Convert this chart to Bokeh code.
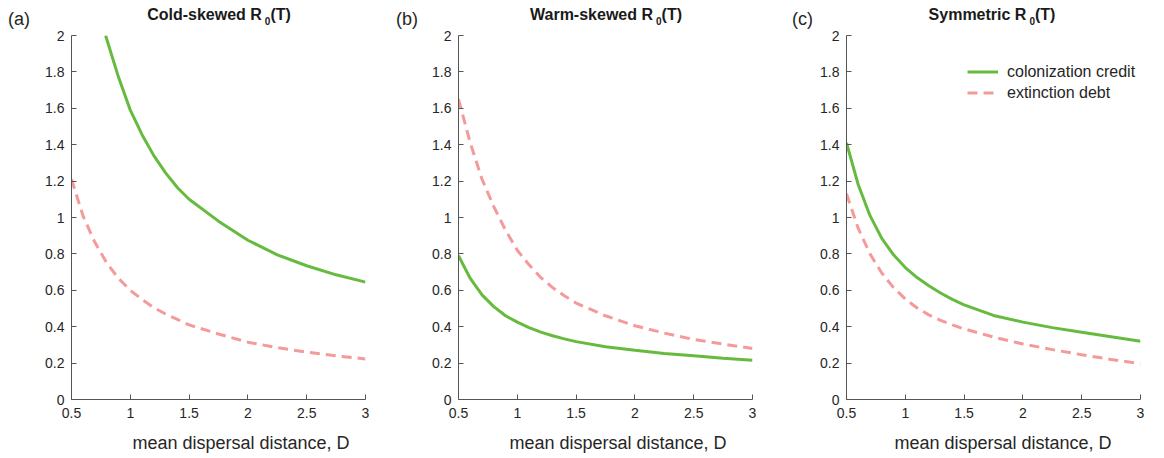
from bokeh.plotting import figure
from bokeh.layouts import row, column
from bokeh.models import Range1d, FixedTicker, CustomJSTickFormatter, Legend, LegendItem, Div
from bokeh.embed import file_html
from bokeh.resources import INLINE

# ---- data ----
D_grid = [0.5, 0.6, 0.7, 0.8, 0.9, 1.0, 1.1, 1.2, 1.3, 1.4, 1.5, 1.75, 2.0, 2.25, 2.5, 2.75, 3.0]

D_cold_credit = [0.79, 0.9, 1.0, 1.1, 1.2, 1.3, 1.4, 1.5, 1.75, 2.0, 2.25, 2.5, 2.75, 3.0]
cold_credit = [2.0, 1.77, 1.59, 1.455, 1.34, 1.245, 1.165, 1.10, 0.98, 0.875, 0.795, 0.735, 0.685, 0.645]
cold_debt = [1.21, 1.005, 0.862, 0.75, 0.665, 0.60, 0.55, 0.505, 0.47, 0.44, 0.41, 0.36, 0.315, 0.285, 0.26, 0.24, 0.223]

warm_credit = [0.79, 0.665, 0.575, 0.51, 0.46, 0.425, 0.395, 0.37, 0.35, 0.333, 0.318, 0.29, 0.27, 0.253, 0.24, 0.227, 0.215]
warm_debt = [1.65, 1.41, 1.21, 1.06, 0.93, 0.82, 0.74, 0.67, 0.615, 0.57, 0.53, 0.46, 0.405, 0.365, 0.33, 0.305, 0.28]

sym_credit = [1.41, 1.18, 1.01, 0.885, 0.795, 0.725, 0.67, 0.625, 0.585, 0.55, 0.52, 0.462, 0.425, 0.395, 0.37, 0.345, 0.32]
sym_debt = [1.13, 0.94, 0.80, 0.695, 0.615, 0.552, 0.503, 0.465, 0.435, 0.41, 0.388, 0.343, 0.305, 0.274, 0.246, 0.22, 0.197]

x_ticks = [0.5, 1, 1.5, 2, 2.5, 3]
y_ticks = [0, 0.2, 0.4, 0.6, 0.8, 1, 1.2, 1.4, 1.6, 1.8, 2]

titles = ["Cold-skewed R", "Warm-skewed R", "Symmetric R"]
panel_tags = ["(a)", "(b)", "(c)"]
xlabel = "mean dispersal distance, D"
legend_labels = ["colonization credit", "extinction debt"]

GREEN = "#66bb3f"
PINK = "#f59a9a"
FONT = "Liberation Sans"
TXT = "#262626"

fmt = CustomJSTickFormatter(code="return String(Math.round(tick*10)/10);")


def make_panel(x_credit, credit, x_debt, debt, left, right, legend=False):
    p = figure(frame_width=294, frame_height=364, min_border_left=left, min_border_right=right,
               min_border_top=6, min_border_bottom=29, output_backend="svg",
               toolbar_location=None, x_range=Range1d(0.5, 3), y_range=Range1d(0, 2))
    p.outline_line_color = None
    p.grid.visible = False
    p.border_fill_alpha = 0
    for ax in (p.xaxis[0], p.yaxis[0]):
        ax.major_tick_in = 5
        ax.major_tick_out = 0
        ax.minor_tick_line_color = None
        ax.axis_line_color = "#555555"
        ax.major_tick_line_color = "#555555"
        ax.major_label_text_font = FONT
        ax.major_label_text_font_size = "14px"
        ax.major_label_text_color = TXT
        ax.formatter = fmt
    p.xaxis[0].ticker = FixedTicker(ticks=x_ticks)
    p.yaxis[0].ticker = FixedTicker(ticks=y_ticks)
    p.xaxis[0].major_label_standoff = 8
    p.yaxis[0].major_label_standoff = 7

    r1 = p.line(x_credit, credit, line_color=GREEN, line_width=3)
    r2 = p.line(x_debt, debt, line_color=PINK, line_width=3, line_dash="10 6")

    if legend:
        lg = Legend(items=[LegendItem(label=legend_labels[0], renderers=[r1]),
                           LegendItem(label=legend_labels[1], renderers=[r2])],
                    location=(121, 296), padding=0, margin=0, spacing=0,
                    glyph_width=31, glyph_height=21, label_height=21, label_standoff=9,
                    label_text_font=FONT, label_text_font_size="16px", label_text_color=TXT,
                    border_line_alpha=0, background_fill_alpha=0)
        p.add_layout(lg)
    return p


p1 = make_panel(D_cold_credit, cold_credit, D_grid, cold_debt, 71, 25)
p2 = make_panel(D_grid, warm_credit, D_grid, warm_debt, 68, 24)
p3 = make_panel(D_grid, sym_credit, D_grid, sym_debt, 70, 24, legend=True)

title_centers = [219, 606, 992]
tag_lefts = [8, 396, 792]
xlabel_centers = [241, 618, 1003]

head = ""
for i in range(3):
    head += ('<span style="position:absolute;left:%dpx;top:10px;font-size:18px;line-height:18px;'
             'color:%s;white-space:nowrap">%s</span>' % (tag_lefts[i], TXT, panel_tags[i]))
    head += ('<span style="position:absolute;left:%dpx;top:7px;transform:translateX(-50%%);'
             'font-size:16px;font-weight:bold;line-height:16px;color:#1a1a1a;white-space:nowrap">%s'
             '<span style="font-size:10px;position:relative;top:5px;margin-left:3px">0</span>(T)</span>'
             % (title_centers[i], titles[i]))
header = Div(text='<div style="position:relative;width:1164px;height:29px;font-family:\'Liberation Sans\'">'
             + head + '</div>', width=1164, height=29, margin=0, styles={"overflow": "visible"})

foot = ""
for i in range(3):
    foot += ('<span style="position:absolute;left:%dpx;top:6px;transform:translateX(-50%%);'
             'font-size:18px;line-height:18px;color:%s;white-space:nowrap">%s</span>'
             % (xlabel_centers[i], TXT, xlabel))
footer = Div(text='<div style="position:relative;width:1164px;height:30px;font-family:\'Liberation Sans\'">'
             + foot + '</div>', width=1164, height=30, margin=0)

layout = column(header, row(p1, p2, p3, spacing=0), footer, spacing=0)
open("out.html", "w").write(file_html(layout, INLINE))
